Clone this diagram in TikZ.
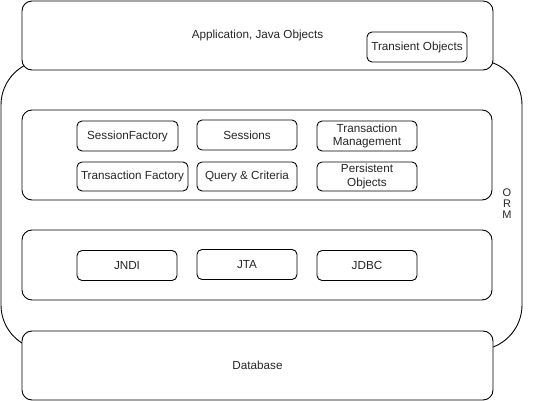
\documentclass[tikz,border=0pt]{standalone}
\usepackage{fontspec}
\setmainfont{Liberation Sans}
\begin{document}
\begin{tikzpicture}[x=1pt,y=-1pt,
  every node/.style={font=\fontsize{11.7}{13.5}\selectfont, text=black!85, inner sep=0pt, outer sep=0pt},
  bigbox/.style={draw=black, fill=white, line width=0.9pt, rounded corners=10pt},
  smallbox/.style={draw=black, fill=white, line width=0.9pt, rounded corners=5pt, align=center},
  ormbox/.style={draw=black, fill=white, line width=0.9pt, rounded corners=45pt}]
\useasboundingbox (0,0) rectangle (533,401);
% outer ORM shape
\node[ormbox, minimum width=521pt, minimum height=290pt] (orm) at (261.5,205) {};
\node[align=center, font=\fontsize{11}{11}\selectfont] (ormlabel) at (507,204) {O\\R\\M};
% application layer
\node[bigbox, minimum width=471pt, minimum height=69pt] (app) at (257.5,35.5) {Application, Java Objects};
\node[smallbox, minimum width=100pt, minimum height=30pt] (transient) at (417,47) {Transient Objects};
% core layer
\node[bigbox, minimum width=470pt, minimum height=90pt] (core) at (257,155) {};
\node[smallbox, minimum width=101pt, minimum height=30pt] (sf) at (127.5,136) {SessionFactory};
\node[smallbox, minimum width=100pt, minimum height=30pt] (sess) at (247,135) {Sessions};
\node[smallbox, minimum width=100pt, minimum height=30pt] (tm) at (367,136) {Transaction\\Management};
\node[smallbox, minimum width=111pt, minimum height=29pt] (tf) at (132.5,176.5) {Transaction Factory};
\node[smallbox, minimum width=100pt, minimum height=29pt] (qc) at (247,176.5) {Query \& Criteria};
\node[smallbox, minimum width=100pt, minimum height=29pt] (po) at (367,176.5) {Persistent\\Objects};
% java api layer
\node[bigbox, minimum width=470pt, minimum height=70pt] (api) at (257,265) {};
\node[smallbox, minimum width=100pt, minimum height=30pt] (jndi) at (127,265.5) {JNDI};
\node[smallbox, minimum width=100pt, minimum height=30pt] (jta) at (247,264.5) {JTA};
\node[smallbox, minimum width=100pt, minimum height=30pt] (jdbc) at (367,265.5) {JDBC};
% database
\node[bigbox, minimum width=471pt, minimum height=69pt] (db) at (257.5,365.5) {Database};
\end{tikzpicture}
\end{document}
